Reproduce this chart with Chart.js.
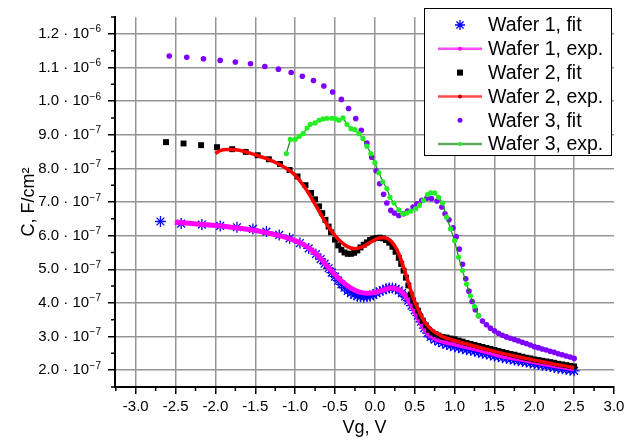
<!DOCTYPE html>
<html>
<head>
<meta charset="utf-8">
<title>C-V curves</title>
<script src="https://cdn.jsdelivr.net/npm/chart.js"></script>
<style>
  html, body { margin: 0; padding: 0; background: #fff; }
  #wrap { width: 635px; height: 445px; }
</style>
</head>
<body>
<div id="wrap"><canvas id="graficoCV"></canvas></div>
<script>
// Vg in V, C in units of 1e-7 F/cm2
const wafer1FitV = [-2.69, -2.43, -2.17, -1.94, -1.73, -1.53, -1.36, -1.20, -1.07, -0.94, -0.83, -0.74, -0.68, -0.63, -0.58, -0.54, -0.50, -0.46, -0.42, -0.38, -0.34, -0.30, -0.26, -0.22, -0.18, -0.14, -0.10, -0.06, -0.02, 0.02, 0.06, 0.10, 0.14, 0.18, 0.22, 0.26, 0.30, 0.34, 0.38, 0.42, 0.46, 0.50, 0.54, 0.58, 0.62, 0.66, 0.70, 0.75, 0.80, 0.85, 0.90, 0.95, 1.00, 1.05, 1.10, 1.15, 1.20, 1.25, 1.30, 1.35, 1.40, 1.45, 1.50, 1.55, 1.60, 1.65, 1.70, 1.75, 1.80, 1.85, 1.90, 1.95, 2.00, 2.05, 2.10, 2.15, 2.20, 2.25, 2.30, 2.35, 2.40, 2.45, 2.50];
const wafer1FitC = [6.42, 6.36, 6.33, 6.29, 6.25, 6.20, 6.12, 6.02, 5.92, 5.78, 5.62, 5.45, 5.30, 5.17, 5.03, 4.90, 4.78, 4.66, 4.55, 4.45, 4.36, 4.29, 4.24, 4.20, 4.18, 4.17, 4.18, 4.20, 4.24, 4.29, 4.34, 4.38, 4.42, 4.44, 4.44, 4.42, 4.37, 4.29, 4.19, 4.07, 3.92, 3.78, 3.62, 3.44, 3.25, 3.10, 2.99, 2.91, 2.85, 2.80, 2.76, 2.73, 2.70, 2.67, 2.64, 2.61, 2.59, 2.56, 2.53, 2.50, 2.48, 2.45, 2.42, 2.40, 2.37, 2.35, 2.33, 2.30, 2.28, 2.26, 2.24, 2.21, 2.19, 2.17, 2.15, 2.13, 2.11, 2.08, 2.06, 2.04, 2.02, 2.00, 1.98];

const wafer1ExpV = [-2.51, -2.20, -1.90, -1.60, -1.40, -1.20, -1.00, -0.90, -0.80, -0.70, -0.60, -0.50, -0.40, -0.30, -0.20, -0.10, 0.00, 0.10, 0.20, 0.28, 0.34, 0.40, 0.45, 0.50, 0.55, 0.60, 0.65, 0.70, 0.80, 0.90, 1.00, 1.20, 1.40, 1.60, 1.80, 2.00, 2.20, 2.40, 2.50];
const wafer1ExpC = [6.40, 6.34, 6.28, 6.19, 6.11, 6.00, 5.85, 5.74, 5.58, 5.37, 5.10, 4.84, 4.61, 4.44, 4.33, 4.29, 4.31, 4.38, 4.44, 4.41, 4.32, 4.16, 3.97, 3.75, 3.52, 3.31, 3.14, 3.02, 2.90, 2.83, 2.78, 2.67, 2.55, 2.42, 2.34, 2.25, 2.16, 2.08, 2.04];

const wafer2FitV = [-2.62, -2.40, -2.18, -1.98, -1.79, -1.62, -1.47, -1.33, -1.19, -1.07, -0.97, -0.87, -0.80, -0.75, -0.70, -0.66, -0.62, -0.58, -0.55, -0.50, -0.46, -0.42, -0.38, -0.34, -0.30, -0.26, -0.22, -0.18, -0.14, -0.10, -0.06, -0.02, 0.02, 0.06, 0.10, 0.14, 0.18, 0.22, 0.26, 0.30, 0.33, 0.36, 0.39, 0.42, 0.45, 0.48, 0.51, 0.54, 0.57, 0.60, 0.64, 0.68, 0.72, 0.76, 0.80, 0.85, 0.90, 0.95, 1.00, 1.05, 1.10, 1.15, 1.20, 1.25, 1.30, 1.35, 1.40, 1.45, 1.50, 1.55, 1.60, 1.65, 1.70, 1.75, 1.80, 1.85, 1.90, 1.95, 2.00, 2.05, 2.10, 2.15, 2.20, 2.25, 2.30, 2.35, 2.40, 2.45, 2.50];
const wafer2FitC = [8.78, 8.74, 8.69, 8.63, 8.57, 8.49, 8.39, 8.27, 8.13, 7.95, 7.76, 7.50, 7.27, 7.08, 6.87, 6.67, 6.47, 6.27, 6.10, 5.88, 5.71, 5.58, 5.50, 5.46, 5.46, 5.49, 5.56, 5.65, 5.73, 5.80, 5.87, 5.91, 5.93, 5.94, 5.92, 5.87, 5.79, 5.67, 5.52, 5.34, 5.16, 4.96, 4.75, 4.52, 4.25, 4.07, 3.92, 3.77, 3.60, 3.47, 3.33, 3.20, 3.12, 3.07, 3.03, 2.99, 2.97, 2.94, 2.92, 2.88, 2.85, 2.81, 2.78, 2.75, 2.72, 2.69, 2.66, 2.63, 2.60, 2.57, 2.54, 2.51, 2.48, 2.46, 2.43, 2.40, 2.37, 2.35, 2.32, 2.30, 2.28, 2.26, 2.24, 2.22, 2.19, 2.17, 2.15, 2.13, 2.11];

const wafer2ExpV = [-2.00, -1.95, -1.85, -1.75, -1.65, -1.50, -1.35, -1.20, -1.05, -0.95, -0.85, -0.75, -0.65, -0.55, -0.45, -0.35, -0.25, -0.15, -0.05, 0.05, 0.12, 0.18, 0.24, 0.30, 0.36, 0.42, 0.48, 0.55, 0.63, 0.73, 0.85, 1.00, 1.20, 1.50, 1.80, 2.00, 2.25, 2.50];
const wafer2ExpC = [8.44, 8.52, 8.56, 8.55, 8.51, 8.40, 8.28, 8.12, 7.90, 7.66, 7.33, 6.93, 6.52, 6.15, 5.87, 5.68, 5.61, 5.67, 5.81, 5.93, 5.94, 5.88, 5.73, 5.46, 5.06, 4.61, 4.16, 3.77, 3.42, 3.17, 3.00, 2.88, 2.75, 2.56, 2.40, 2.30, 2.18, 2.08];

const wafer3FitV = [-2.58, -2.36, -2.15, -1.94, -1.75, -1.56, -1.38, -1.21, -1.05, -0.91, -0.77, -0.64, -0.53, -0.42, -0.33, -0.24, -0.17, -0.10, -0.04, 0.015, 0.06, 0.11, 0.15, 0.20, 0.245, 0.30, 0.36, 0.41, 0.48, 0.53, 0.59, 0.65, 0.71, 0.78, 0.84, 0.88, 0.93, 0.98, 1.02, 1.06, 1.10, 1.14, 1.18, 1.22, 1.26, 1.30, 1.35, 1.40, 1.45, 1.50, 1.55, 1.60, 1.65, 1.70, 1.75, 1.80, 1.85, 1.90, 1.95, 2.00, 2.05, 2.10, 2.15, 2.20, 2.25, 2.30, 2.35, 2.40, 2.45, 2.50];
const wafer3FitC = [11.34, 11.30, 11.26, 11.21, 11.16, 11.11, 11.03, 10.95, 10.85, 10.74, 10.61, 10.45, 10.27, 10.05, 9.78, 9.48, 9.13, 8.75, 8.33, 7.93, 7.54, 7.23, 6.97, 6.75, 6.67, 6.60, 6.65, 6.73, 6.85, 6.95, 7.05, 7.11, 7.10, 7.03, 6.85, 6.65, 6.47, 6.23, 5.97, 5.60, 5.15, 4.72, 4.35, 4.04, 3.80, 3.62, 3.46, 3.35, 3.25, 3.17, 3.10, 3.04, 2.99, 2.95, 2.91, 2.87, 2.83, 2.79, 2.75, 2.70, 2.67, 2.63, 2.60, 2.56, 2.53, 2.49, 2.46, 2.42, 2.39, 2.35];

const wafer3ExpV = [-1.11, -1.06, -1.00, -0.95, -0.90, -0.85, -0.81, -0.75, -0.70, -0.65, -0.60, -0.54, -0.49, -0.45, -0.40, -0.35, -0.30, -0.25, -0.20, -0.15, -0.10, -0.05, 0.00, 0.05, 0.10, 0.15, 0.19, 0.24, 0.30, 0.35, 0.40, 0.45, 0.51, 0.56, 0.61, 0.66, 0.70, 0.75, 0.80, 0.85, 0.90, 0.95, 1.00, 1.05, 1.10, 1.15, 1.20, 1.25, 1.30];
const wafer3ExpC = [8.44, 8.86, 8.86, 8.95, 9.03, 9.20, 9.31, 9.35, 9.43, 9.47, 9.49, 9.49, 9.47, 9.43, 9.50, 9.31, 9.18, 9.15, 9.03, 8.89, 8.66, 8.44, 8.17, 7.87, 7.60, 7.40, 7.14, 6.97, 6.77, 6.65, 6.67, 6.73, 6.80, 6.90, 7.05, 7.22, 7.27, 7.27, 7.14, 6.97, 6.55, 6.20, 5.85, 5.36, 4.96, 4.56, 4.21, 3.90, 3.62];

const xTickValues = [-3.0, -2.5, -2.0, -1.5, -1.0, -0.5, 0.0, 0.5, 1.0, 1.5, 2.0, 2.5, 3.0];
const yTickValues = [2, 3, 4, 5, 6, 7, 8, 9, 10, 11, 12];
const yTickLabels = ['2.0 \u00b7 10^\u22127', '3.0 \u00b7 10^\u22127', '4.0 \u00b7 10^\u22127', '5.0 \u00b7 10^\u22127', '6.0 \u00b7 10^\u22127', '7.0 \u00b7 10^\u22127', '8.0 \u00b7 10^\u22127', '9.0 \u00b7 10^\u22127', '1.0 \u00b7 10^\u22126', '1.1 \u00b7 10^\u22126', '1.2 \u00b7 10^\u22126'];

const fontFamily = "Arial, 'Liberation Sans', sans-serif";
const gridColor = '#959595';

function toPoints(vs, cs) {
  return vs.map((v, i) => ({ x: v, y: cs[i] }));
}

// minor ticks, tick labels with exponents, boxed legend
const extras = {
  id: 'extras',
  afterDraw(chart) {
    const ctx = chart.ctx;
    const xs = chart.scales.x;
    const ys = chart.scales.y;
    const area = chart.chartArea;
    ctx.save();

    ctx.strokeStyle = '#000';
    ctx.lineWidth = 1.5;
    ctx.beginPath();
    xTickValues.forEach(v => {
      const m = v - 0.25;
      if (m < xs.min) return;
      const px = xs.getPixelForValue(m);
      ctx.moveTo(px, area.bottom);
      ctx.lineTo(px, area.bottom + 4);
    });
    yTickValues.concat([13]).forEach(v => {
      const py = ys.getPixelForValue(v - 0.5);
      ctx.moveTo(area.left, py);
      ctx.lineTo(area.left - 4, py);
    });
    ctx.stroke();

    ctx.fillStyle = '#000';
    ctx.textAlign = 'right';
    yTickValues.forEach((v, i) => {
      const parts = yTickLabels[i].split('^');
      const py = ys.getPixelForValue(v);
      const right = area.left - 14;
      ctx.font = '10px ' + fontFamily;
      ctx.textBaseline = 'alphabetic';
      const ew = ctx.measureText(parts[1]).width;
      ctx.fillText(parts[1], right, py - 1.5);
      ctx.font = '15px ' + fontFamily;
      ctx.textBaseline = 'middle';
      ctx.fillText(parts[0], right - ew - 0.5, py);
    });

    // legend
    const lx = 424.5, ly = 8.5, lw = 187, lh = 147;
    ctx.fillStyle = '#fff';
    ctx.fillRect(lx, ly, lw, lh);
    ctx.strokeStyle = '#000';
    ctx.lineWidth = 1;
    ctx.strokeRect(lx, ly, lw, lh);
    ctx.textAlign = 'left';
    ctx.textBaseline = 'middle';
    chart.data.datasets.forEach((ds, i) => {
      const cy = 25 + i * 23.8;
      const cx = 460;
      if (ds.showLine) {
        ctx.globalAlpha = 0.7;
        ctx.strokeStyle = ds.borderColor;
        ctx.lineWidth = 2.5;
        ctx.beginPath();
        ctx.moveTo(438, cy);
        ctx.lineTo(482, cy);
        ctx.stroke();
        ctx.globalAlpha = 1;
        ctx.fillStyle = ds.legendDot;
        ctx.beginPath();
        ctx.arc(cx, cy, 2, 0, Math.PI * 2);
        ctx.fill();
      } else if (ds.pointStyle === 'star') {
        ctx.strokeStyle = ds.borderColor;
        ctx.lineWidth = 1.3;
        const r = 5, d = r * Math.SQRT1_2;
        ctx.beginPath();
        ctx.moveTo(cx - r, cy); ctx.lineTo(cx + r, cy);
        ctx.moveTo(cx, cy - r); ctx.lineTo(cx, cy + r);
        ctx.moveTo(cx - d, cy - d); ctx.lineTo(cx + d, cy + d);
        ctx.moveTo(cx - d, cy + d); ctx.lineTo(cx + d, cy - d);
        ctx.stroke();
      } else if (ds.pointStyle === 'rect') {
        ctx.fillStyle = ds.backgroundColor;
        ctx.fillRect(cx - 3, cy - 3, 6, 6);
      } else {
        ctx.fillStyle = ds.backgroundColor;
        ctx.beginPath();
        ctx.arc(cx, cy, 2.5, 0, Math.PI * 2);
        ctx.fill();
      }
      ctx.fillStyle = '#000';
      ctx.font = '19.5px ' + fontFamily;
      ctx.fillText(ds.label, 488, cy + 1);
    });
    ctx.restore();
  }
};

const ctx = document.getElementById('graficoCV').getContext('2d');
new Chart(ctx, {
  type: 'scatter',
  data: {
    datasets: [
      {
        label: 'Wafer 1, fit',
        data: toPoints(wafer1FitV, wafer1FitC),
        showLine: false,
        pointStyle: 'star',
        pointRadius: 5.5,
        pointBorderWidth: 1.3,
        borderColor: '#0000ff',
        backgroundColor: '#0000ff',
        order: 6
      },
      {
        label: 'Wafer 1, exp.',
        data: toPoints(wafer1ExpV, wafer1ExpC),
        showLine: true,
        borderColor: '#ff00ff',
        backgroundColor: '#ff00ff',
        legendDot: '#ff00ff',
        borderWidth: 5,
        pointRadius: 0,
        cubicInterpolationMode: 'monotone',
        order: 5
      },
      {
        label: 'Wafer 2, fit',
        data: toPoints(wafer2FitV, wafer2FitC),
        showLine: false,
        pointStyle: 'rect',
        pointRadius: 4.2,
        pointBorderWidth: 0,
        borderColor: '#000',
        backgroundColor: '#000',
        order: 4
      },
      {
        label: 'Wafer 2, exp.',
        data: toPoints(wafer2ExpV, wafer2ExpC),
        showLine: true,
        borderColor: '#ff0000',
        backgroundColor: '#ff0000',
        legendDot: '#cc0000',
        borderWidth: 3.5,
        pointRadius: 0,
        cubicInterpolationMode: 'monotone',
        order: 3
      },
      {
        label: 'Wafer 3, fit',
        data: toPoints(wafer3FitV, wafer3FitC),
        showLine: false,
        pointStyle: 'circle',
        pointRadius: 2.8,
        pointBorderWidth: 0,
        borderColor: '#8000ff',
        backgroundColor: '#8000ff',
        order: 2
      },
      {
        label: 'Wafer 3, exp.',
        data: toPoints(wafer3ExpV, wafer3ExpC),
        showLine: true,
        borderColor: '#178a17',
        backgroundColor: '#22ee22',
        legendDot: '#22ee22',
        borderWidth: 1.2,
        pointRadius: 2.6,
        pointBorderWidth: 0,
        pointBackgroundColor: '#22ee22',
        tension: 0,
        order: 1
      }
    ]
  },
  options: {
    responsive: true,
    maintainAspectRatio: false,
    animation: false,
    events: [],
    layout: { padding: { top: 17, right: 21, bottom: 0, left: 0 } },
    plugins: {
      legend: { display: false },
      tooltip: { enabled: false }
    },
    scales: {
      x: {
        type: 'linear',
        min: -3.26,
        max: 3.0,
        afterBuildTicks: s => { s.ticks = xTickValues.map(v => ({ value: v })); },
        afterFit: s => { s.height = 58; },
        grid: {
          color: c => (c.tick && c.tick.value === 3 ? 'rgba(0,0,0,0)' : gridColor),
          lineWidth: 1.5,
          tickColor: '#000',
          tickWidth: 1.5,
          tickLength: 7
        },
        border: { display: true, color: '#000', width: 2 },
        ticks: {
          color: '#000',
          font: { size: 15, family: fontFamily },
          padding: 4,
          maxRotation: 0,
          autoSkip: false,
          callback: v => v.toFixed(1)
        },
        title: {
          display: true,
          text: 'Vg, V',
          color: '#000',
          font: { size: 18, family: fontFamily },
          padding: { top: 0, bottom: 6 }
        }
      },
      y: {
        type: 'linear',
        min: 1.5,
        max: 12.5,
        afterBuildTicks: s => { s.ticks = yTickValues.map(v => ({ value: v })); },
        afterFit: s => { s.width = 115; },
        grid: {
          color: gridColor,
          lineWidth: 1.5,
          tickColor: '#000',
          tickWidth: 1.5,
          tickLength: 7
        },
        border: { display: true, color: '#000', width: 2 },
        ticks: { autoSkip: false, callback: () => '' },
        title: {
          display: true,
          text: 'C, F/cm\u00b2',
          color: '#000',
          font: { size: 18, family: fontFamily },
          padding: { top: 18, bottom: 0 }
        }
      }
    }
  },
  plugins: [extras]
});
</script>
</body>
</html>
